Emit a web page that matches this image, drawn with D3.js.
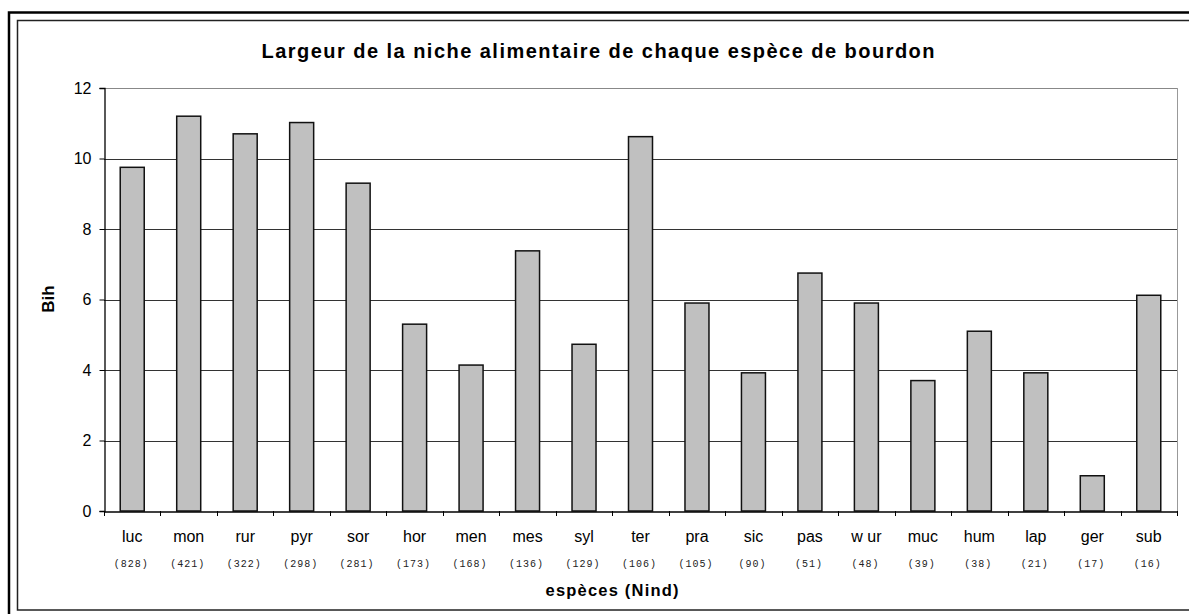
<!DOCTYPE html>
<html><head><meta charset="utf-8">
<script src="https://cdn.jsdelivr.net/npm/d3@7"></script>
<style>body{margin:0;background:#fff}svg{display:block}</style>
</head><body><svg id="c" width="1189" height="614"></svg>
<script>
const species = ["luc","mon","rur","pyr","sor","hor","men","mes","syl","ter","pra","sic","pas","w ur","muc","hum","lap","ger","sub"];
const counts = ["(828)","(421)","(322)","(298)","(281)","(173)","(168)","(136)","(129)","(106)","(105)","(90)","(51)","(48)","(39)","(38)","(21)","(17)","(16)"];
const bih = [9.75,11.2,10.7,11.02,9.3,5.3,4.14,7.38,4.73,10.62,5.9,3.92,6.75,5.9,3.7,5.1,3.92,1.0,6.12];
const yTicks = [0,2,4,6,8,10,12];

const svg = d3.select("#c");
const L=104, R=1177, T=88, B=511;
const FONT = "Liberation Sans, Arial, sans-serif";
// frames
svg.append("rect").attr("x",9).attr("y",12.5).attr("width",1200).attr("height",620).attr("fill","none").attr("stroke","#000").attr("stroke-width",2.5);
svg.append("rect").attr("x",17.5).attr("y",20.5).attr("width",1200).attr("height",589.5).attr("fill","none").attr("stroke","#222").attr("stroke-width",1.5);

const x = d3.scaleBand().domain(species).range([L,R]).paddingInner(0.575).paddingOuter(0.2875);
const xb = d3.scaleBand().domain(species).range([L,R]);
const y = d3.scaleLinear().domain([0,12]).range([B,T]);

// grid
svg.append("g").selectAll("line").data(yTicks.filter(d=>d>0)).join("line")
  .attr("x1",L).attr("x2",R).attr("y1",d=>Math.round(y(d))+0.5).attr("y2",d=>Math.round(y(d))+0.5)
  .attr("stroke",d=>d===12?"#888":"#333").attr("stroke-width",1);
svg.append("line").attr("x1",R+0.5).attr("x2",R+0.5).attr("y1",T).attr("y2",B).attr("stroke","#999");

// bars
svg.append("g").selectAll("rect").data(bih).join("rect")
  .attr("x",(d,i)=>x(species[i])).attr("width",x.bandwidth())
  .attr("y",d=>y(d)).attr("height",d=>y(0)-y(d))
  .attr("fill","#c0c0c0").attr("stroke","#111").attr("stroke-width",1.5);

// y axis
const ya = svg.append("g").attr("transform",`translate(${L+0.5},0)`)
  .call(d3.axisLeft(y).tickValues(yTicks).tickSize(5).tickPadding(8).tickFormat(d3.format("d")));
ya.select(".domain").attr("stroke","#000").attr("stroke-width",1.3);
ya.selectAll("line").attr("stroke","#000");
ya.selectAll("text").attr("font-family",FONT).attr("font-size",16).attr("fill","#000");

// x axis
const xa = svg.append("g").attr("transform",`translate(0,${B+0.5})`)
  .call(d3.axisBottom(xb).tickSize(0).tickPadding(19));
xa.select(".domain").attr("stroke","#000").attr("stroke-width",1.3);
xa.selectAll("text").attr("font-family",FONT).attr("font-size",16).attr("fill","#000");
// tick marks at band boundaries
svg.append("g").selectAll("line").data(species.concat(["__end"])).join("line")
  .attr("x1",(d,i)=>Math.round(L+i*xb.step())+0.5).attr("x2",(d,i)=>Math.round(L+i*xb.step())+0.5)
  .attr("y1",B).attr("y2",B+5).attr("stroke","#000");

// counts
svg.append("g").selectAll("text").data(counts).join("text")
  .attr("x",(d,i)=>xb(species[i])+xb.bandwidth()/2-1).attr("y",567)
  .attr("text-anchor","middle").attr("font-family","Liberation Mono, Courier New, monospace")
  .attr("font-size",10).attr("letter-spacing",1).attr("fill","#222").text(d=>d);

// titles
svg.append("text").attr("x",598).attr("y",58).attr("text-anchor","middle")
  .attr("font-family",FONT).attr("font-weight","bold").attr("font-size",20)
  .attr("textLength",673).attr("lengthAdjust","spacing")
  .text("Largeur de la niche alimentaire de chaque espèce de bourdon");
svg.append("text").attr("x",612).attr("y",596).attr("text-anchor","middle")
  .attr("font-family",FONT).attr("font-weight","bold").attr("font-size",16.5)
  .attr("textLength",133).attr("lengthAdjust","spacing").text("espèces (Nind)");
svg.append("text").attr("transform","translate(54,299) rotate(-90)").attr("text-anchor","middle")
  .attr("font-family",FONT).attr("font-weight","bold").attr("font-size",17)
  .text("Bih");
</script></body></html>
